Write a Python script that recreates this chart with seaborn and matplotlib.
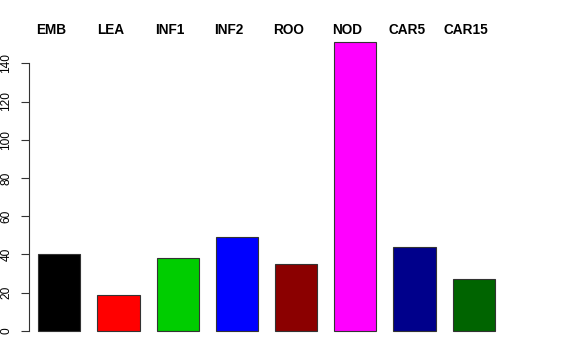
import seaborn as sns
import matplotlib.pyplot as plt
import matplotlib.transforms as mtransforms
import pandas as pd

tissues = ['EMB', 'LEA', 'INF1', 'INF2', 'ROO', 'NOD', 'CAR5', 'CAR15']
counts = [40, 19, 38, 49, 35, 151, 44, 27]
bar_colors = ['#000000', '#FF0000', '#00CD00', '#0000FF', '#8B0000',
              '#FF00FF', '#00008B', '#006400']
yticks = [0, 20, 40, 60, 80, 100, 120, 140]

df = pd.DataFrame({'tissue': tissues, 'count': counts})

sns.set_style('white')
plt.rcParams['font.family'] = ['Liberation Sans', 'DejaVu Sans']
plt.rcParams['text.color'] = 'black'
plt.rcParams['ytick.color'] = 'black'

W, H = 576, 360
fig = plt.figure(figsize=(W / 100, H / 100), dpi=100)
ax = fig.add_axes([29 / W, 1 - 342.5 / H, (547 - 29) / W, (342.5 - 30.7) / H])

sns.barplot(data=df, x='tissue', y='count', hue='tissue', palette=bar_colors,
            legend=False, width=0.71, edgecolor='#333333', linewidth=0.8,
            saturation=1, ax=ax)

ax.set_xlim(-0.512, 8.238)
ax.set_ylim(-6.04, 157.04)
ax.set_xlabel('')
ax.set_ylabel('')
ax.set_xticks([])
ax.set_yticks(yticks)
ax.tick_params(axis='y', length=6, width=0.8, pad=6, labelsize=8.6,
               color='#333333', left=True)
for lab in ax.get_yticklabels():
    lab.set_rotation(90)
    lab.set_va('center')

for side in ['top', 'right', 'bottom']:
    ax.spines[side].set_visible(False)
ax.spines['left'].set_bounds(0, 140)
ax.spines['left'].set_color('#333333')
ax.spines['left'].set_linewidth(0.8)

# category names across the top, slightly left of each bar centre
trans = mtransforms.blended_transform_factory(ax.transData, fig.transFigure)
for i, name in enumerate(tissues):
    ax.text(i - 0.13, 1 - 30 / H, name, transform=trans, ha='center',
            va='center', fontsize=9.8, fontweight='bold', clip_on=False)

plt.savefig('out.png', dpi=100)
